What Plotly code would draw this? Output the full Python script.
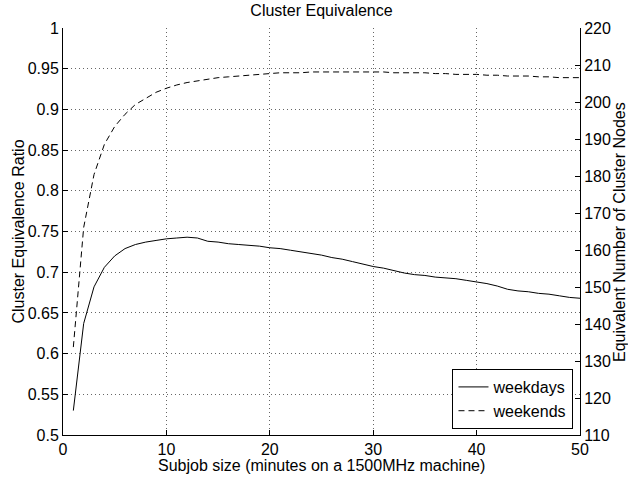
import plotly.graph_objects as go

# ---- data ----
subjob_size = list(range(1, 51))

weekdays = [0.530, 0.637, 0.682, 0.706, 0.720, 0.729, 0.734, 0.737, 0.739, 0.741,
            0.742, 0.743, 0.742, 0.738, 0.737, 0.735, 0.734, 0.733, 0.732, 0.730,
            0.729, 0.727, 0.725, 0.723, 0.721, 0.718, 0.716, 0.713, 0.710, 0.707,
            0.705, 0.702, 0.699, 0.697, 0.696, 0.694, 0.693, 0.692, 0.690, 0.688,
            0.686, 0.683, 0.679, 0.677, 0.676, 0.674, 0.673, 0.671, 0.669, 0.668]

weekends = [0.608, 0.755, 0.820, 0.857, 0.879, 0.894, 0.906, 0.914, 0.921, 0.926,
            0.930, 0.933, 0.935, 0.937, 0.939, 0.940, 0.941, 0.942, 0.943, 0.944,
            0.945, 0.945, 0.945, 0.946, 0.946, 0.946, 0.946, 0.946, 0.946, 0.946,
            0.946, 0.945, 0.945, 0.945, 0.945, 0.944, 0.944, 0.943, 0.943, 0.943,
            0.942, 0.942, 0.941, 0.941, 0.941, 0.940, 0.940, 0.939, 0.939, 0.939]

cluster_nodes = 220  # ratio 1.0 == 220 nodes

x_ticks = [0, 10, 20, 30, 40, 50]
y_ticks = [0.5, 0.55, 0.6, 0.65, 0.7, 0.75, 0.8, 0.85, 0.9, 0.95, 1.0]
y_tick_labels = ["0.5", "0.55", "0.6", "0.65", "0.7", "0.75", "0.8", "0.85", "0.9", "0.95", "1"]
y2_ticks = [110, 120, 130, 140, 150, 160, 170, 180, 190, 200, 210, 220]

FONT = "Liberation Sans, Arial, Helvetica, sans-serif"
FS = 16

fig = go.Figure()
fig.add_trace(go.Scatter(x=subjob_size, y=weekdays, name="weekdays", mode="lines",
                         line=dict(color="black", width=1)))
fig.add_trace(go.Scatter(x=subjob_size, y=weekends, name="weekends", mode="lines",
                         line=dict(color="black", width=1, dash="6px,4px")))
# same curve expressed in nodes on the right axis (invisible, just anchors the axis)
fig.add_trace(go.Scatter(x=subjob_size, y=[v * cluster_nodes for v in weekdays],
                         yaxis="y2", mode="lines", opacity=0, showlegend=False,
                         hoverinfo="skip", line=dict(color="black", width=1)))

axis_common = dict(showline=True, linecolor="black", linewidth=1, ticks="inside",
                   ticklen=5, tickcolor="black", zeroline=False, automargin=False,
                   tickfont=dict(family=FONT, size=FS, color="black"))

grid = dict(showgrid=True, gridcolor="#666666", griddash="1px,3px", gridwidth=1)

fig.update_layout(
    template="none",
    width=628, height=477,
    margin=dict(l=63, r=47.5, t=28, b=42),
    paper_bgcolor="white", plot_bgcolor="white",
    font=dict(family=FONT, size=FS, color="black"),
    title=dict(text="Cluster Equivalence", x=0.5, xref="paper", xanchor="center",
               y=1 - 10 / 477, yref="container", yanchor="middle",
               font=dict(family=FONT, size=FS, color="black")),
    xaxis=dict(range=[0, 50], tickvals=x_ticks, **grid, **axis_common),
    yaxis=dict(range=[0.5, 1.0], tickvals=y_ticks, ticktext=y_tick_labels,
               **grid, **axis_common),
    yaxis2=dict(range=[110, 220], tickvals=y2_ticks, overlaying="y", side="right",
                anchor="x", showgrid=False, **axis_common),
    legend=dict(x=0.9874, y=0.0147, xanchor="right", yanchor="bottom",
                bgcolor="white", bordercolor="black", borderwidth=1,
                font=dict(family=FONT, size=FS, color="black"), tracegroupgap=0),
    showlegend=True,
    annotations=[
        dict(text="Subjob size (minutes on a 1500MHz machine)", xref="paper", yref="paper",
             x=0.5, y=(435 - 466) / 407, xanchor="center", yanchor="middle",
             showarrow=False, font=dict(family=FONT, size=FS, color="black")),
        dict(text="Cluster Equivalence Ratio", xref="paper", yref="paper",
             x=(18 - 63) / 517.5, y=0.5, xanchor="center", yanchor="middle",
             textangle=-90, showarrow=False, font=dict(family=FONT, size=FS, color="black")),
        dict(text="Equivalent Number of Cluster Nodes", xref="paper", yref="paper",
             x=(620 - 63) / 517.5, y=0.5, xanchor="center", yanchor="middle",
             textangle=-90, showarrow=False, font=dict(family=FONT, size=FS, color="black")),
    ],
)

fig.write_html("out.html", config={"displayModeBar": False},
               post_script="document.body.style.margin='0';document.body.style.padding='0';")
